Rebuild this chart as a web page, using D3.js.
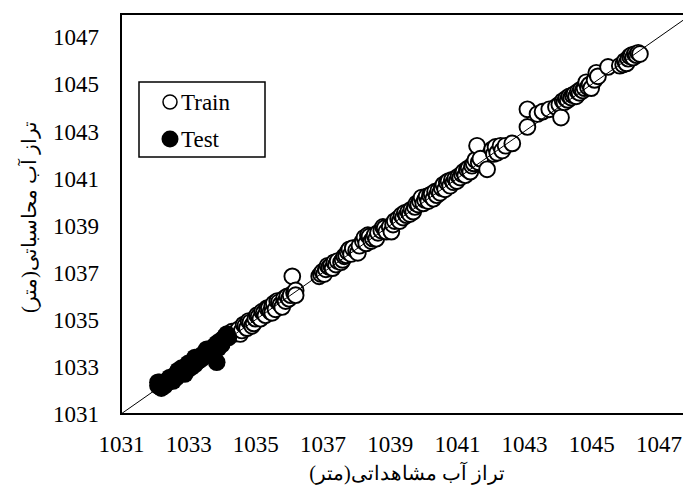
<!DOCTYPE html>
<html>
<head>
<meta charset="utf-8">
<script src="https://cdn.jsdelivr.net/npm/d3@7"></script>
<style>
  body { margin: 0; background: #fff; }
  svg { display: block; }
</style>
</head>
<body>
<svg id="chart" width="683" height="489"></svg>
<script>
const axisMin = 1031;
const axisMax = 1048;
const tickValues = [1031, 1033, 1035, 1037, 1039, 1041, 1043, 1045, 1047];

const xTitle = "تراز آب مشاهداتی(متر)";
const yTitle = "تراز آب محاسباتی(متر)";

const serifFont = "'Liberation Serif'";

// [observed, computed]
const trainPoints = [
  [1034.25, 1034.35], [1034.3, 1034.5], [1034.35, 1034.4], [1034.45, 1034.5],
  [1034.5, 1034.6], [1034.55, 1034.4], [1034.6, 1034.55], [1034.65, 1034.8],
  [1034.7, 1034.75], [1034.75, 1034.65], [1034.8, 1034.95], [1034.85, 1034.9],
  [1034.9, 1034.75], [1034.95, 1034.85], [1035.0, 1035.05], [1035.05, 1035.2],
  [1035.1, 1035.15], [1035.15, 1035.05], [1035.2, 1035.35], [1035.25, 1035.3],
  [1035.3, 1035.2], [1035.35, 1035.5], [1035.4, 1035.5], [1035.45, 1035.35],
  [1035.5, 1035.6], [1035.5, 1035.3], [1035.55, 1035.7], [1035.6, 1035.45],
  [1035.65, 1035.8], [1035.7, 1035.75], [1035.75, 1035.65], [1035.8, 1035.55],
  [1035.85, 1035.9], [1035.9, 1035.8], [1035.95, 1036.0], [1036.0, 1035.9],
  [1036.05, 1036.05], [1036.1, 1036.85], [1036.15, 1036.15], [1036.2, 1036.25],
  [1036.2, 1036.05],
  [1036.9, 1036.85], [1036.95, 1036.95], [1037.0, 1037.05], [1037.05, 1036.95],
  [1037.1, 1037.15], [1037.15, 1037.3], [1037.2, 1037.25], [1037.25, 1037.3],
  [1037.3, 1037.2], [1037.35, 1037.45], [1037.4, 1037.35], [1037.45, 1037.5],
  [1037.55, 1037.45], [1037.6, 1037.55], [1037.65, 1037.7], [1037.7, 1037.75],
  [1037.75, 1037.9], [1037.8, 1038.0], [1037.85, 1037.8], [1037.9, 1038.05],
  [1038.0, 1037.95], [1038.05, 1037.85], [1038.1, 1038.15],
  [1038.2, 1038.35], [1038.25, 1038.5], [1038.3, 1038.25], [1038.35, 1038.6],
  [1038.4, 1038.55], [1038.45, 1038.35], [1038.5, 1038.45], [1038.55, 1038.6],
  [1038.6, 1038.45], [1038.65, 1038.7],
  [1038.75, 1038.8], [1038.8, 1038.95], [1038.85, 1038.9], [1038.9, 1038.75],
  [1039.0, 1038.95], [1039.05, 1038.75], [1039.1, 1039.05], [1039.15, 1039.2],
  [1039.25, 1039.3], [1039.3, 1039.2], [1039.35, 1039.45], [1039.4, 1039.35],
  [1039.45, 1039.55], [1039.5, 1039.45], [1039.55, 1039.6], [1039.6, 1039.5],
  [1039.65, 1039.7], [1039.7, 1039.6], [1039.75, 1039.8], [1039.8, 1039.95],
  [1039.85, 1039.9], [1039.9, 1040.05], [1039.95, 1040.2], [1040.0, 1039.95],
  [1040.05, 1040.1], [1040.1, 1040.25], [1040.15, 1040.05], [1040.2, 1040.3],
  [1040.25, 1040.35], [1040.3, 1040.15], [1040.35, 1040.45], [1040.4, 1040.3],
  [1040.45, 1040.5], [1040.5, 1040.4],
  [1040.55, 1040.6], [1040.6, 1040.75], [1040.65, 1040.55], [1040.7, 1040.85],
  [1040.75, 1040.9], [1040.8, 1040.7], [1040.85, 1040.95], [1040.9, 1040.85],
  [1040.95, 1041.0], [1041.0, 1040.9], [1041.05, 1041.1], [1041.1, 1041.05],
  [1041.15, 1041.2], [1041.2, 1041.3], [1041.25, 1041.15], [1041.3, 1041.4],
  [1041.35, 1041.45], [1041.4, 1041.3], [1041.45, 1041.55],
  [1041.5, 1041.65], [1041.55, 1041.8], [1041.6, 1042.4], [1041.65, 1041.7],
  [1041.7, 1041.85], [1041.9, 1041.4],
  [1042.05, 1042.25], [1042.1, 1042.05], [1042.15, 1042.35], [1042.2, 1042.1],
  [1042.3, 1042.4], [1042.35, 1042.2], [1042.45, 1042.4], [1042.65, 1042.5],
  [1043.1, 1043.2], [1043.1, 1043.95], [1043.4, 1043.75], [1043.55, 1043.85],
  [1043.75, 1043.95], [1043.95, 1044.05],
  [1044.05, 1044.15], [1044.1, 1043.6], [1044.15, 1044.3], [1044.2, 1044.25],
  [1044.25, 1044.4], [1044.3, 1044.35], [1044.35, 1044.5], [1044.4, 1044.45],
  [1044.45, 1044.55], [1044.5, 1044.6], [1044.55, 1044.5], [1044.6, 1044.7],
  [1044.65, 1044.65], [1044.7, 1044.8], [1044.75, 1044.75], [1044.8, 1044.85],
  [1044.85, 1045.1], [1044.9, 1044.9], [1044.95, 1045.0], [1045.0, 1044.85],
  [1045.1, 1045.2], [1045.15, 1045.5], [1045.2, 1045.35], [1045.5, 1045.75],
  [1045.85, 1045.8], [1045.95, 1045.85], [1046.0, 1046.0], [1046.05, 1045.9],
  [1046.1, 1046.1], [1046.15, 1046.2], [1046.2, 1046.25], [1046.25, 1046.15],
  [1046.3, 1046.3], [1046.35, 1046.25], [1046.4, 1046.35], [1046.45, 1046.3]
];

const testPoints = [
  [1032.1, 1032.2], [1032.1, 1032.35], [1032.15, 1032.35], [1032.2, 1032.1],
  [1032.25, 1032.3], [1032.3, 1032.2], [1032.35, 1032.4], [1032.4, 1032.35],
  [1032.45, 1032.55], [1032.5, 1032.5], [1032.55, 1032.4], [1032.6, 1032.65],
  [1032.65, 1032.55], [1032.7, 1032.85], [1032.75, 1032.7], [1032.8, 1032.95],
  [1032.85, 1032.8], [1032.9, 1032.7], [1032.95, 1032.95], [1033.0, 1032.9],
  [1033.0, 1033.15], [1033.05, 1033.1], [1033.1, 1033.0], [1033.15, 1033.2],
  [1033.2, 1033.1], [1033.2, 1033.4], [1033.25, 1033.3], [1033.3, 1033.25],
  [1033.35, 1033.45], [1033.4, 1033.35], [1033.45, 1033.55], [1033.5, 1033.6],
  [1033.55, 1033.5], [1033.55, 1033.75], [1033.6, 1033.7], [1033.65, 1033.55],
  [1033.7, 1033.8], [1033.75, 1033.65], [1033.8, 1033.9], [1033.85, 1033.2],
  [1033.85, 1034.0], [1033.9, 1033.8], [1033.95, 1034.1], [1034.0, 1033.95],
  [1034.05, 1034.2], [1034.1, 1034.3], [1034.15, 1034.4], [1034.2, 1034.25]
];

const legendItems = [
  { label: "Train", fill: "#fff" },
  { label: "Test", fill: "#000" }
];

const svg = d3.select("#chart");
const margin = { left: 121, top: 14, right: 692, bottom: 414 };

const x = d3.scaleLinear().domain([axisMin, axisMax]).range([margin.left, margin.right]);
const y = d3.scaleLinear().domain([axisMin, axisMax]).range([margin.bottom, margin.top]);

// plot area clip
svg.append("defs").append("clipPath").attr("id", "plotClip")
  .append("rect")
  .attr("x", margin.left).attr("y", margin.top)
  .attr("width", margin.right - margin.left)
  .attr("height", margin.bottom - margin.top);

const plot = svg.append("g").attr("clip-path", "url(#plotClip)");

plot.selectAll("circle.train")
  .data(trainPoints)
  .enter()
  .append("circle")
  .attr("class", "train")
  .attr("cx", (d) => x(d[0]))
  .attr("cy", (d) => y(d[1]))
  .attr("r", 7.9)
  .attr("fill", "#fff")
  .attr("stroke", "#000")
  .attr("stroke-width", 1.9);

plot.selectAll("circle.test")
  .data(testPoints)
  .enter()
  .append("circle")
  .attr("class", "test")
  .attr("cx", (d) => x(d[0]))
  .attr("cy", (d) => y(d[1]))
  .attr("r", 8.8)
  .attr("fill", "#000");

// 1:1 line
plot.append("line")
  .attr("x1", x(axisMin)).attr("y1", y(axisMin))
  .attr("x2", x(axisMax)).attr("y2", y(axisMax))
  .attr("stroke", "#000")
  .attr("stroke-width", 1);

// frame
svg.append("rect")
  .attr("x", margin.left).attr("y", margin.top)
  .attr("width", margin.right - margin.left)
  .attr("height", margin.bottom - margin.top)
  .attr("fill", "none")
  .attr("stroke", "#000")
  .attr("stroke-width", 2);

// axes without tick marks
const xAxis = svg.append("g")
  .attr("transform", `translate(0,${margin.bottom})`)
  .call(d3.axisBottom(x).tickValues(tickValues).tickSize(0).tickPadding(22).tickFormat(d3.format("d")));
const yAxis = svg.append("g")
  .attr("transform", `translate(${margin.left},0)`)
  .call(d3.axisLeft(y).tickValues(tickValues).tickSize(0).tickPadding(22).tickFormat(d3.format("d")));

[xAxis, yAxis].forEach((g) => {
  g.select(".domain").remove();
  g.attr("font-family", null).attr("font-size", null);
  g.selectAll("text")
    .style("font-family", serifFont)
    .style("font-size", "23px")
    .attr("fill", "#000");
});

// axis titles, scaled to the width they have in the reference
function fitText(sel, target) {
  const w = sel.node().getComputedTextLength();
  if (w > 0) sel.style("font-size", (20 * target / w).toFixed(2) + "px");
}

const xt = svg.append("text")
  .attr("x", 407)
  .attr("y", 480)
  .attr("text-anchor", "middle")
  .style("font-family", serifFont)
  .style("font-size", "20px")
  .text(xTitle);
fitText(xt, 198);

const yt = svg.append("text")
  .attr("transform", "translate(36,217) rotate(-90)")
  .attr("text-anchor", "middle")
  .style("font-family", serifFont)
  .style("font-size", "20px")
  .text(yTitle);
fitText(yt, 196);

// legend
const legend = svg.append("g");
legend.append("rect")
  .attr("x", 139).attr("y", 82)
  .attr("width", 126).attr("height", 75)
  .attr("fill", "#fff")
  .attr("stroke", "#000")
  .attr("stroke-width", 1.5);

const rows = legend.selectAll("g.item")
  .data(legendItems)
  .enter()
  .append("g")
  .attr("class", "item")
  .attr("transform", (d, i) => `translate(0,${102 + i * 37})`);

rows.append("circle")
  .attr("cx", 170)
  .attr("cy", 0)
  .attr("r", (d) => (d.fill === "#000" ? 8.5 : 7))
  .attr("fill", (d) => d.fill)
  .attr("stroke", "#000")
  .attr("stroke-width", (d) => (d.fill === "#000" ? 0 : 1.5));

rows.append("text")
  .attr("x", 181)
  .attr("y", 8)
  .style("font-family", serifFont)
  .style("font-size", "23px")
  .text((d) => d.label);
</script>
</body>
</html>
